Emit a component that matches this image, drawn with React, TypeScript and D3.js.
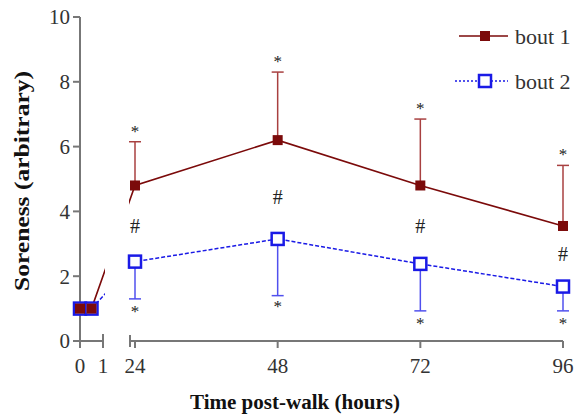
import React from "react";
import * as d3 from "d3";

const hours = [0, 0.5, 24, 48, 72, 96];
const bout1 = [1, 1, 4.8, 6.2, 4.8, 3.55];
const bout1ErrTop = [1, 1, 6.15, 8.3, 6.85, 5.42];
const bout2 = [1, 1, 2.45, 3.15, 2.38, 1.68];
const bout2ErrBottom = [1, 1, 1.3, 1.4, 0.93, 0.93];
const yTicks = [0, 2, 4, 6, 8, 10];
const xTicksA = [0, 1];
const xTicksB = [24, 48, 72, 96];
const starAbove = [null, null, "*", "*", "*", "*"];
const hashMid = [null, null, "#", "#", "#", "#"];
const hashVal = [0, 0, 3.55, 4.45, 3.55, 2.7];
const starBelowVal = [0, 0, 0.82, 1.0, 0.45, 0.45];
const seriesNames = ["bout 1", "bout 2"];

const RED = "#7b0a0a";
const RED_ERR = "#a84040";
const BLUE = "#1a1ae6";
const BLUE_ERR = "#5050ee";
const AXIS = "#777";
const FONT = '"Liberation Serif", "Times New Roman", Times, serif';

export default function App() {
  const W = 577, H = 419;
  const y = d3.scaleLinear().domain([0, 10]).range([341, 17]);
  const xa = d3.scaleLinear().domain([0, 1]).range([80, 103]);
  const xb = d3.scaleLinear().domain([24, 96]).range([135, 563]);
  const x = (h: number) => (h <= 1 ? xa(h) : xb(h));
  const gapL = 105, gapR = 129;

  const pts1 = hours.map((h, i) => [x(h), y(bout1[i])] as [number, number]);
  const pts2 = hours.map((h, i) => [x(h), y(bout2[i])] as [number, number]);
  const line = d3.line();

  return (
    <svg width={W} height={H} style={{ position: "absolute", left: 0, top: 0, background: "#fff", fontFamily: FONT }}>
      <defs>
        <clipPath id="gapclip">
          <rect x={0} y={0} width={gapL} height={H} />
          <rect x={gapR} y={0} width={W - gapR} height={H} />
        </clipPath>
      </defs>
      {/* y axis */}
      <line x1={80} x2={80} y1={y(10)} y2={348} stroke={AXIS} strokeWidth={2} />
      {yTicks.map((t) => (
        <g key={t}>
          <line x1={73} x2={80} y1={y(t)} y2={y(t)} stroke={AXIS} strokeWidth={2} />
          <text x={70} y={y(t)} dy="0.35em" textAnchor="end" fontSize={21} fill="#333">{t}</text>
        </g>
      ))}
      {/* x axis segment A */}
      <line x1={xa(0)} x2={xa(1)} y1={341} y2={341} stroke={AXIS} strokeWidth={2} />
      {xTicksA.map((t) => (
        <g key={t}>
          <line x1={xa(t)} x2={xa(t)} y1={t === 1 ? 334 : 341} y2={348} stroke={AXIS} strokeWidth={2} />
          <text x={xa(t)} y={373} textAnchor="middle" fontSize={21} fill="#333">{t}</text>
        </g>
      ))}
      {/* x axis segment B */}
      <line x1={gapR + 1} x2={xb(96)} y1={341} y2={341} stroke={AXIS} strokeWidth={2} />
      <line x1={gapR + 1} x2={gapR + 1} y1={335} y2={347} stroke={AXIS} strokeWidth={2} />
      {xTicksB.map((t) => (
        <g key={t}>
          <line x1={xb(t)} x2={xb(t)} y1={341} y2={348} stroke={AXIS} strokeWidth={2} />
          <text x={xb(t)} y={373} textAnchor="middle" fontSize={21} fill="#333">{t}</text>
        </g>
      ))}

      {/* error bars */}
      {hours.map((h, i) =>
        i < 2 ? null : (
          <g key={"e" + i}>
            <line x1={x(h)} x2={x(h)} y1={y(bout1[i])} y2={y(bout1ErrTop[i])} stroke={RED_ERR} strokeWidth={1.5} />
            <line x1={x(h) - 6} x2={x(h) + 6} y1={y(bout1ErrTop[i])} y2={y(bout1ErrTop[i])} stroke={RED_ERR} strokeWidth={1.5} />
            <line x1={x(h)} x2={x(h)} y1={y(bout2[i])} y2={y(bout2ErrBottom[i])} stroke={BLUE_ERR} strokeWidth={1.5} />
            <line x1={x(h) - 6} x2={x(h) + 6} y1={y(bout2ErrBottom[i])} y2={y(bout2ErrBottom[i])} stroke={BLUE_ERR} strokeWidth={1.5} />
          </g>
        )
      )}

      {/* lines */}
      <g clipPath="url(#gapclip)">
        <path d={line(pts2) || ""} fill="none" stroke={BLUE} strokeWidth={1.5} strokeDasharray="4,2" />
        <path d={line(pts1) || ""} fill="none" stroke={RED} strokeWidth={1.6} />
      </g>

      {/* markers */}
      {pts2.map(([px, py], i) => (
        <rect key={"b" + i} x={px - 6} y={py - 6} width={12} height={12} fill="#fff" stroke={BLUE} strokeWidth={2.5} />
      ))}
      {pts1.map(([px, py], i) => (
        <rect key={"r" + i} x={px - 5} y={py - 5} width={10} height={10} fill={RED} />
      ))}

      {/* annotations */}
      {hours.map((h, i) =>
        i < 2 ? null : (
          <g key={"a" + i} fill="#222">
            <text x={x(h)} y={y(bout1ErrTop[i]) - 5} textAnchor="middle" fontSize={17}>{starAbove[i]}</text>
            <text x={x(h)} y={y(hashVal[i])} dy="0.35em" textAnchor="middle" fontSize={20}>{hashMid[i]}</text>
            <text x={x(h)} y={y(starBelowVal[i]) + 3} textAnchor="middle" fontSize={17}>*</text>
          </g>
        )
      )}

      {/* legend */}
      <line x1={459} x2={508} y1={36} y2={36} stroke={RED} strokeWidth={1.6} />
      <rect x={480} y={31} width={10} height={10} fill={RED} />
      <text x={515} y={36} dy="0.35em" fontSize={22} fill="#333">{seriesNames[0]}</text>
      <line x1={455} x2={508} y1={81} y2={81} stroke={BLUE} strokeWidth={1.5} strokeDasharray="2,2" />
      <rect x={479} y={75} width={12} height={12} fill="#fff" stroke={BLUE} strokeWidth={2.5} />
      <text x={515} y={81} dy="0.35em" fontSize={22} fill="#333">{seriesNames[1]}</text>

      {/* axis titles */}
      <text x={295} y={409} textAnchor="middle" fontSize={20} fontWeight="bold" fill="#111" textLength={210} lengthAdjust="spacingAndGlyphs">Time post-walk (hours)</text>
      <text transform="translate(29,181) rotate(-90)" textAnchor="middle" fontSize={20} fontWeight="bold" fill="#111" textLength={220} lengthAdjust="spacingAndGlyphs">Soreness (arbitrary)</text>
    </svg>
  );
}
